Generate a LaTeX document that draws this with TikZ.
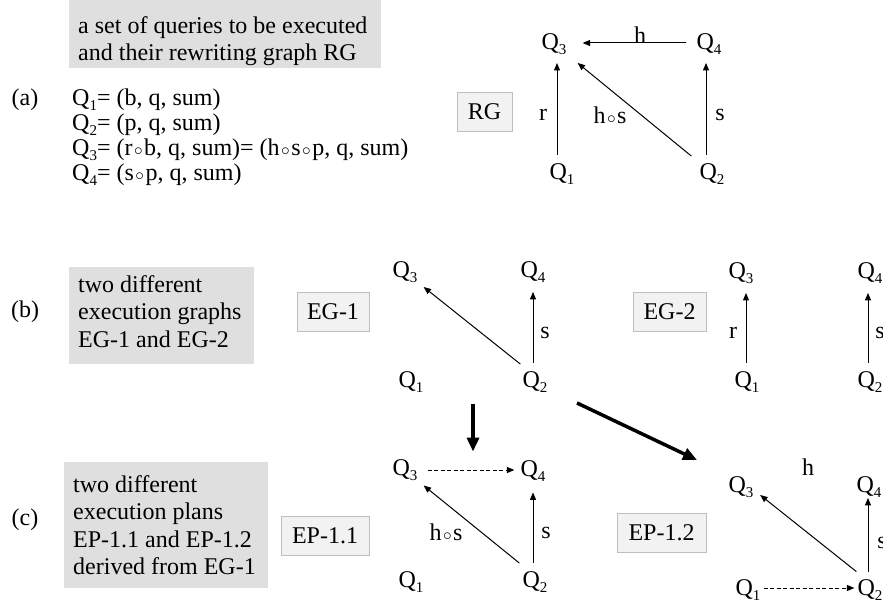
\documentclass[tikz,border=0pt]{standalone}
\usepackage{fontspec}
\setmainfont{Liberation Serif}
\usetikzlibrary{arrows.meta,calc}
\definecolor{boxgray}{HTML}{DFDFDF}
\definecolor{lblfill}{HTML}{F2F2F2}
\definecolor{lbldraw}{HTML}{BFBFBF}
\newcommand\rng{\hspace{1.5pt}$\scriptstyle\circ$\hspace{1.5pt}}
\newcommand\qq[1]{Q\raisebox{-4.5pt}{\fontsize{15}{15}\selectfont #1}}
\begin{document}
\begin{tikzpicture}[x=1pt,y=-1pt,font=\fontsize{24}{25}\selectfont,
  bigbox/.style={fill=boxgray, anchor=north west, align=flush left, inner xsep=0pt, inner ysep=0pt,
                 font=\fontsize{24}{27.5}\selectfont},
  tag/.style={fill=lblfill, draw=lbldraw, line width=0.8pt, inner sep=0pt, minimum height=39pt},
  qn/.style={inner sep=0pt},
  lbl/.style={inner sep=0pt},
  arr/.style={line width=1pt, -{Triangle[length=7.5pt,width=6pt]}},
  darr/.style={arr, dash pattern=on 4pt off 2.5pt},
  bigarr/.style={line width=3.5pt, -{Triangle[length=14pt,width=12pt]}}]
\useasboundingbox (0,0) rectangle (883,601);
\clip (0,0) rectangle (883,601);
% ---------- (a)
\node[bigbox, text width=312pt, text height=33pt, text depth=35pt] (boxA) at (69,0)
  {\hspace*{9pt}a set of queries to be executed\\\hspace*{9pt}and their rewriting graph RG};
\node[lbl] (la) at (25,100) {(a)};
\node[lbl, anchor=west, align=left] (qlist) at (72,137.5) {\qq{1}= (b, q, sum)\\\qq{2}= (p, q, sum)\\\qq{3}= (r\rng b, q, sum)= (h\rng s\rng p, q, sum)\\\qq{4}= (s\rng p, q, sum)};
\node[tag, minimum width=55pt] (rg) at (484.5,111.5) {RG};
\node[qn] (aQ3) at (554,44) {\qq{3}};
\node[qn] (aQ4) at (709,44) {\qq{4}};
\node[qn] (aQ1) at (562,174) {\qq{1}};
\node[qn] (aQ2) at (712,174) {\qq{2}};
\draw[arr] ($(aQ1.north)+(-5,-8.5)$) -- ($(aQ3.south)+(3,8.5)$);
\draw[arr] ($(aQ2.north)+(-6,-8.5)$) -- ($(aQ4.south)+(-3,8.5)$);
\draw[arr] ($(aQ4.west)+(-10,-1)$) -- ($(aQ3.east)+(16,-1)$);
\draw[arr] ($(aQ2.north west)+(-8,-7.5)$) -- ($(aQ3.south east)+(11,8.5)$);
\node[lbl] (ah) at (640,35) {h};
\node[lbl] (ar) at (543,115) {r};
\node[lbl] (ahs) at (610,115) {h\rng s};
\node[lbl] (as) at (720,115) {s};
% ---------- (b)
\node[lbl] (lb) at (25,312) {(b)};
\node[bigbox, text width=185pt, text height=25pt, text depth=72pt] (boxB) at (69,267)
  {\hspace*{9pt}two different\\\hspace*{9pt}execution graphs\\\hspace*{9pt}EG-1 and EG-2};
\node[tag, minimum width=72pt] (eg1) at (333,311.5) {EG-1};
\node[qn] (bQ3) at (405,272) {\qq{3}};
\node[qn] (bQ4) at (533,272) {\qq{4}};
\node[qn] (bQ1) at (411,382) {\qq{1}};
\node[qn] (bQ2) at (535,382) {\qq{2}};
\coordinate (bmid) at ($(bQ1)!0.5!(bQ2)$);
\draw[arr] ($(bQ2.north west)+(-2,-7.5)$) -- ($(bQ3.south east)+(6,4.5)$);
\draw[arr] ($(bQ2.north)+(-2,-8.5)$) -- ($(bQ4.south)+(0,9.5)$);
\node[lbl] (bs) at (545,333) {s};
\node[tag, minimum width=73pt] (eg2) at (669.5,311.5) {EG-2};
\node[qn] (cQ3) at (741,273) {\qq{3}};
\node[qn] (cQ4) at (870,273) {\qq{4}};
\node[qn] (cQ1) at (747,382) {\qq{1}};
\node[qn] (cQ2) at (870,382) {\qq{2}};
\draw[arr] ($(cQ1.north)+(-1,-8.5)$) -- ($(cQ3.south)+(5,9.5)$);
\draw[arr] ($(cQ2.north)+(-2,-8.5)$) -- ($(cQ4.south)+(-2,9.5)$);
\node[lbl] (cr) at (733,333) {r};
\node[lbl] (cs) at (880,333) {s};
% ---------- (c)
\node[lbl] (lc) at (25,520) {(c)};
\node[bigbox, text width=204pt, text height=30pt, text depth=96pt] (boxC) at (64,462)
  {\hspace*{9pt}two different\\\hspace*{9pt}execution plans\\\hspace*{9pt}EP-1.1 and EP-1.2\\\hspace*{9pt}derived from EG-1};
\node[tag, minimum width=88pt] (ep11) at (325,536) {EP-1.1};
\node[qn] (dQ3) at (405,470) {\qq{3}};
\node[qn] (dQ4) at (533,471) {\qq{4}};
\node[qn] (dQ1) at (411,582) {\qq{1}};
\node[qn] (dQ2) at (535,582) {\qq{2}};
\draw[darr] ($(dQ3.east)+(10,0)$) -- ($(dQ4.west)+(-6,-1)$);
\draw[arr] ($(dQ2.north west)+(-3,-8.5)$) -- ($(dQ3.south east)+(6,5)$);
\draw[arr] ($(dQ2.north)+(-2,-8.5)$) -- ($(dQ4.south)+(0,11)$);
\node[lbl] (dhs) at (446,532) {h\rng s};
\node[lbl] (ds) at (546,533) {s};
\node[tag, minimum width=89pt] (ep12) at (661.5,533) {EP-1.2};
\node[qn] (eQ3) at (741,487) {\qq{3}};
\node[qn] (eQ4) at (869,487) {\qq{4}};
\node[qn] (eQ1) at (748,590) {\qq{1}};
\node[qn] (eQ2) at (870,590) {\qq{2}};
\node[lbl] (eh) at (808,467) {h};
\draw[arr] ($(eQ2.north west)+(-1,-8)$) -- ($(eQ3.south east)+(6.5,-2.5)$);
\draw[arr] ($(eQ2.north)+(-2,-8)$) -- ($(eQ4.south)+(-1,0.5)$);
\draw[darr] ($(eQ1.east)+(3,-2)$) -- ($(eQ2.west)+(-3,-2)$);
\node[lbl] (es) at (882,543) {s};
% ---------- transitions
\draw[bigarr] ([yshift=-22pt]bmid) -- ([yshift=8pt]bmid |- dQ3.north);
\draw[bigarr] ($(bQ2)+(42,21)$) -- ($(eQ3)+(-44,-27)$);
\end{tikzpicture}
\end{document}
